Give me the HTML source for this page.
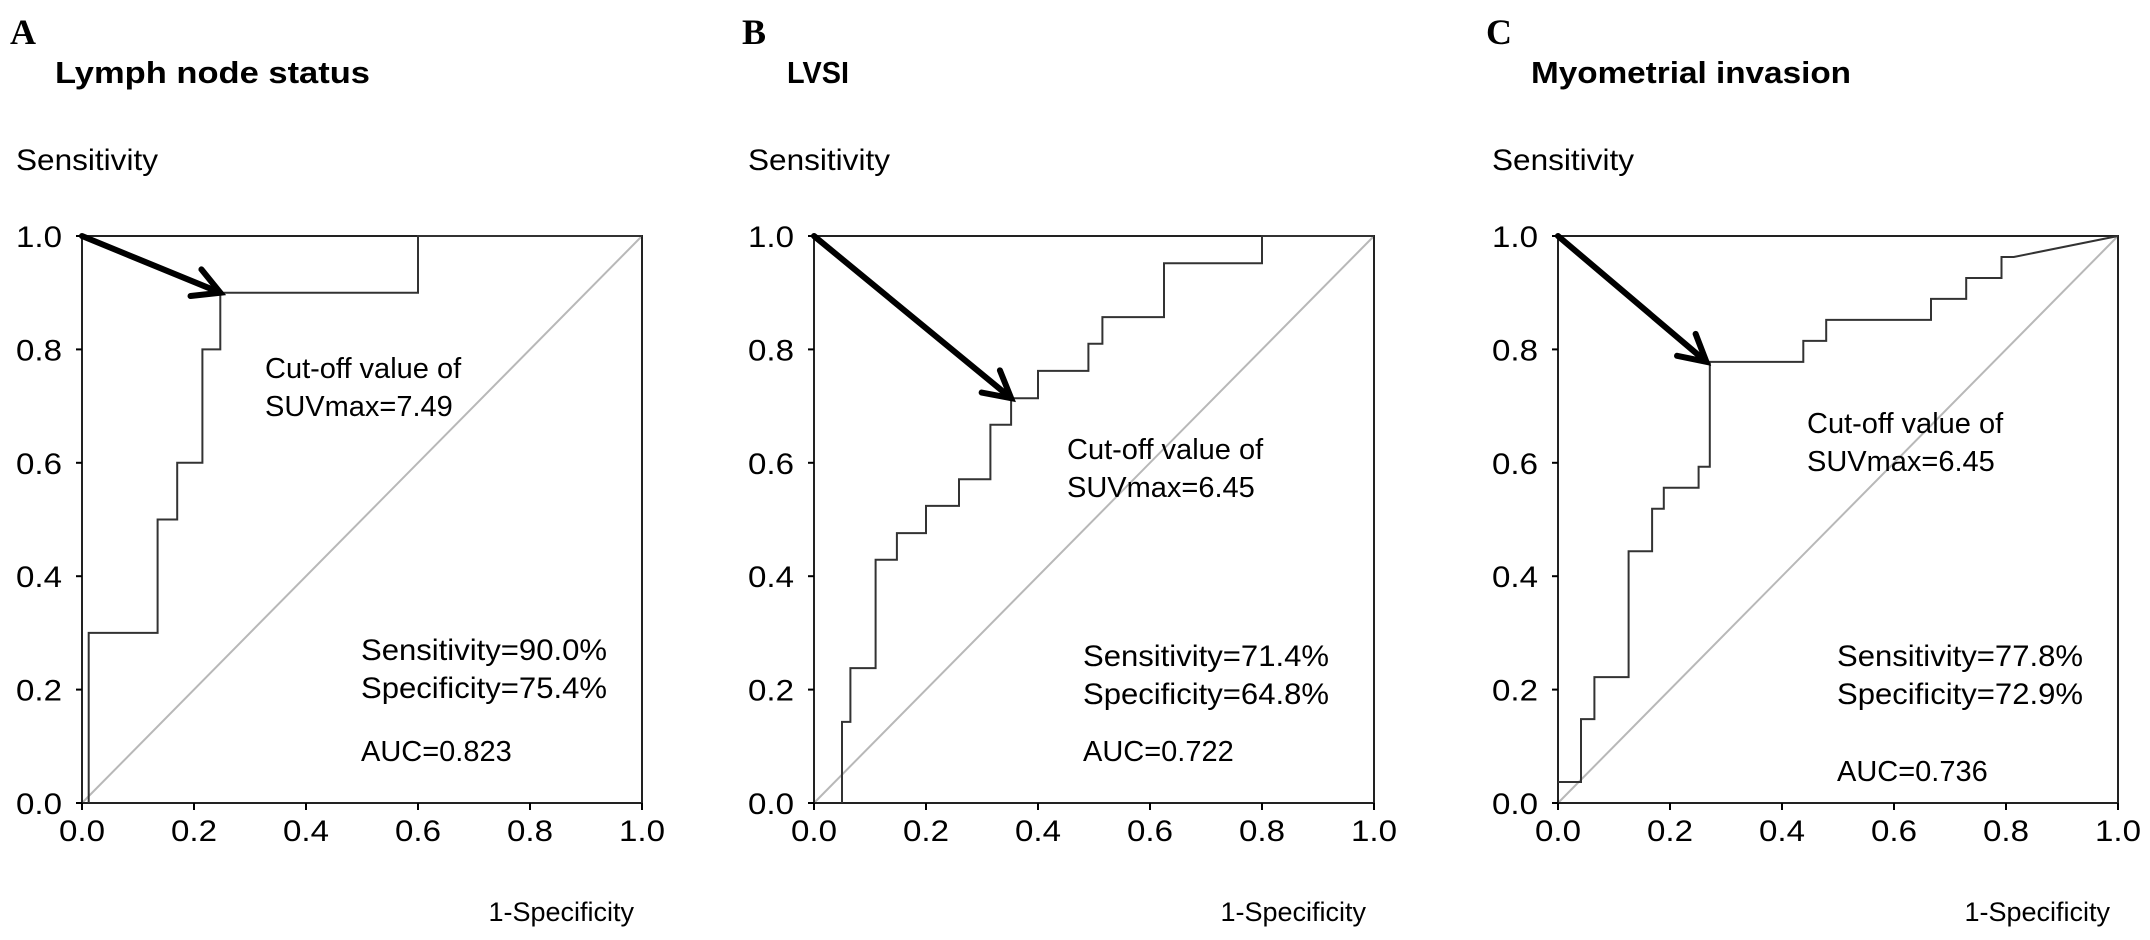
<!DOCTYPE html>
<html><head><meta charset="utf-8">
<style>
html,body{margin:0;padding:0;background:#fff;}
svg{display:block;font-family:"Liberation Sans",Arial,sans-serif;}
</style></head>
<body>
<svg id="fig" width="2150" height="940" viewBox="0 0 2150 940" xmlns="http://www.w3.org/2000/svg"></svg>
<script>
// ---- data ----
const tickValues = [0, 0.2, 0.4, 0.6, 0.8, 1.0];
const tickLabels = ["0.0", "0.2", "0.4", "0.6", "0.8", "1.0"];
const panelLetters = ["A", "B", "C"];
const panelTitles = ["Lymph node status", "LVSI", "Myometrial invasion"];
const fprA = [0.012,0.012,0.135,0.135,0.17,0.17,0.215,0.215,0.247,0.247,0.6,0.6,1];
const tprA = [0,0.3,0.3,0.5,0.5,0.6,0.6,0.8,0.8,0.9,0.9,1,1];
const fprB = [0.05,0.05,0.065,0.065,0.11,0.11,0.148,0.148,0.2,0.2,0.259,0.259,0.315,0.315,0.352,0.352,0.4,0.4,0.49,0.49,0.515,0.515,0.625,0.625,0.8,0.8,1];
const tprB = [0,0.143,0.143,0.238,0.238,0.429,0.429,0.476,0.476,0.524,0.524,0.571,0.571,0.667,0.667,0.714,0.714,0.762,0.762,0.81,0.81,0.857,0.857,0.952,0.952,1,1];
const fprC = [0,0.041,0.041,0.065,0.065,0.126,0.126,0.168,0.168,0.189,0.189,0.251,0.251,0.271,0.271,0.438,0.438,0.479,0.479,0.666,0.666,0.729,0.729,0.792,0.792,0.814,1];
const tprC = [0.037,0.037,0.148,0.148,0.222,0.222,0.444,0.444,0.519,0.519,0.556,0.556,0.593,0.593,0.778,0.778,0.815,0.815,0.852,0.852,0.889,0.889,0.926,0.926,0.963,0.963,1];
const cutoffFpr = [0.247, 0.352, 0.265];
const cutoffTpr = [0.9, 0.714, 0.778];
const cutoffText = ["SUVmax=7.49", "SUVmax=6.45", "SUVmax=6.45"];
const sensText = ["Sensitivity=90.0%", "Sensitivity=71.4%", "Sensitivity=77.8%"];
const specText = ["Specificity=75.4%", "Specificity=64.8%", "Specificity=72.9%"];
const aucText = ["AUC=0.823", "AUC=0.722", "AUC=0.736"];

// ---- layout ----
const NS = "http://www.w3.org/2000/svg";
const svg = document.getElementById("fig");
const panels = [
  {x0:82, x1:642, y0:803, y1:236, fpr:fprA, tpr:tprA, cx:265, cy:378, sx:361, sy:660, ay:761, tw:315},
  {x0:814, x1:1374, y0:803, y1:236, fpr:fprB, tpr:tprB, cx:1067, cy:459, sx:1083, sy:666, ay:761, tw:62},
  {x0:1558, x1:2118, y0:803, y1:236, fpr:fprC, tpr:tprC, cx:1807, cy:433, sx:1837, sy:666, ay:781, tw:320}
];
function el(tag, attrs, parent){
  const e = document.createElementNS(NS, tag);
  for (const k in attrs) e.setAttribute(k, attrs[k]);
  (parent||svg).appendChild(e);
  return e;
}
function txt(s, attrs, parent){ const t = el("text", attrs, parent); t.textContent = s; return t; }

panels.forEach((p, i) => {
  const sx = v => p.x0 + v * (p.x1 - p.x0);
  const sy = v => p.y0 + v * (p.y1 - p.y0);
  const g = el("g", {});
  
  

  const L = txt(panelLetters[i], {x:p.x0-72, y:44, "font-family":"Liberation Serif,serif", "font-weight":"bold", "font-size":36}, g);
  
  
  const T = txt(panelTitles[i], {x:p.x0-27, y:83, "font-weight":"bold", "font-size":31, textLength:p.tw, lengthAdjust:"spacingAndGlyphs"}, g);
  
  
  const YT = txt("Sensitivity", {x:p.x0-66, y:170, "font-size":30, textLength:142, lengthAdjust:"spacingAndGlyphs"}, g);
  
  
  const XT = txt("1-Specificity", {x:p.x1-8, y:921, "font-size":27, "text-anchor":"end"}, g);
  
  

  const d = el("line", {x1:sx(0), y1:sy(0), x2:sx(1), y2:sy(1), stroke:"#b8b8b8", "stroke-width":2}, g);
  
  

  const fr = el("rect", {x:p.x0, y:p.y1, width:p.x1-p.x0, height:p.y0-p.y1, fill:"none", stroke:"#222", "stroke-width":2}, g);
  
  

  tickValues.forEach((v, k) => {
    const yt = el("line", {x1:p.x0-6, y1:sy(v), x2:p.x0, y2:sy(v), stroke:"#000", "stroke-width":2}, g);
    
    
    const yl = txt(tickLabels[k], {x:p.x0-20, y:sy(v)+11, "font-size":30, "text-anchor":"end", textLength:46, lengthAdjust:"spacingAndGlyphs"}, g);
    
    
    const xt = el("line", {x1:sx(v), y1:p.y0, x2:sx(v), y2:p.y0+7, stroke:"#000", "stroke-width":2}, g);
    
    
    const xl = txt(tickLabels[k], {x:sx(v), y:841, "font-size":30, "text-anchor":"middle", textLength:46, lengthAdjust:"spacingAndGlyphs"}, g);
    
    
  });

  const pts = p.fpr.map((f, k) => sx(f).toFixed(1) + "," + sy(p.tpr[k]).toFixed(1)).join(" ");
  const c = el("polyline", {points:pts, fill:"none", stroke:"#333", "stroke-width":2}, g);
  
  

  const ax0 = sx(0), ay0 = sy(1), ax1 = sx(cutoffFpr[i]), ay1 = sy(cutoffTpr[i]);
  const ang = Math.atan2(ay1-ay0, ax1-ax0);
  const hl = 30, ha = 0.5;
  const a = el("g", {}, g);
  
  
  el("line", {x1:ax0, y1:ay0, x2:ax1-3*Math.cos(ang), y2:ay1-3*Math.sin(ang), stroke:"#000", "stroke-width":6, "stroke-linecap":"round"}, a);
  const h1x = ax1 - hl*Math.cos(ang-ha), h1y = ay1 - hl*Math.sin(ang-ha);
  const h2x = ax1 - hl*Math.cos(ang+ha), h2y = ay1 - hl*Math.sin(ang+ha);
  el("polyline", {points:`${h1x},${h1y} ${ax1},${ay1} ${h2x},${h2y}`, fill:"none", stroke:"#000", "stroke-width":6, "stroke-linecap":"round", "stroke-linejoin":"miter"}, a);

  const t1 = txt("Cut-off value of", {x:p.cx, y:p.cy, "font-size":29}, g);
  
  
  const t2 = txt(cutoffText[i], {x:p.cx, y:p.cy+38, "font-size":29}, g);
  
  
  const t3 = txt(sensText[i], {x:p.sx, y:p.sy, "font-size":30, textLength:246, lengthAdjust:"spacingAndGlyphs"}, g);
  
  
  const t4 = txt(specText[i], {x:p.sx, y:p.sy+38, "font-size":30, textLength:246, lengthAdjust:"spacingAndGlyphs"}, g);
  
  
  const t5 = txt(aucText[i], {x:p.sx, y:p.ay, "font-size":29}, g);
  
  
});
</script>
</body></html>
